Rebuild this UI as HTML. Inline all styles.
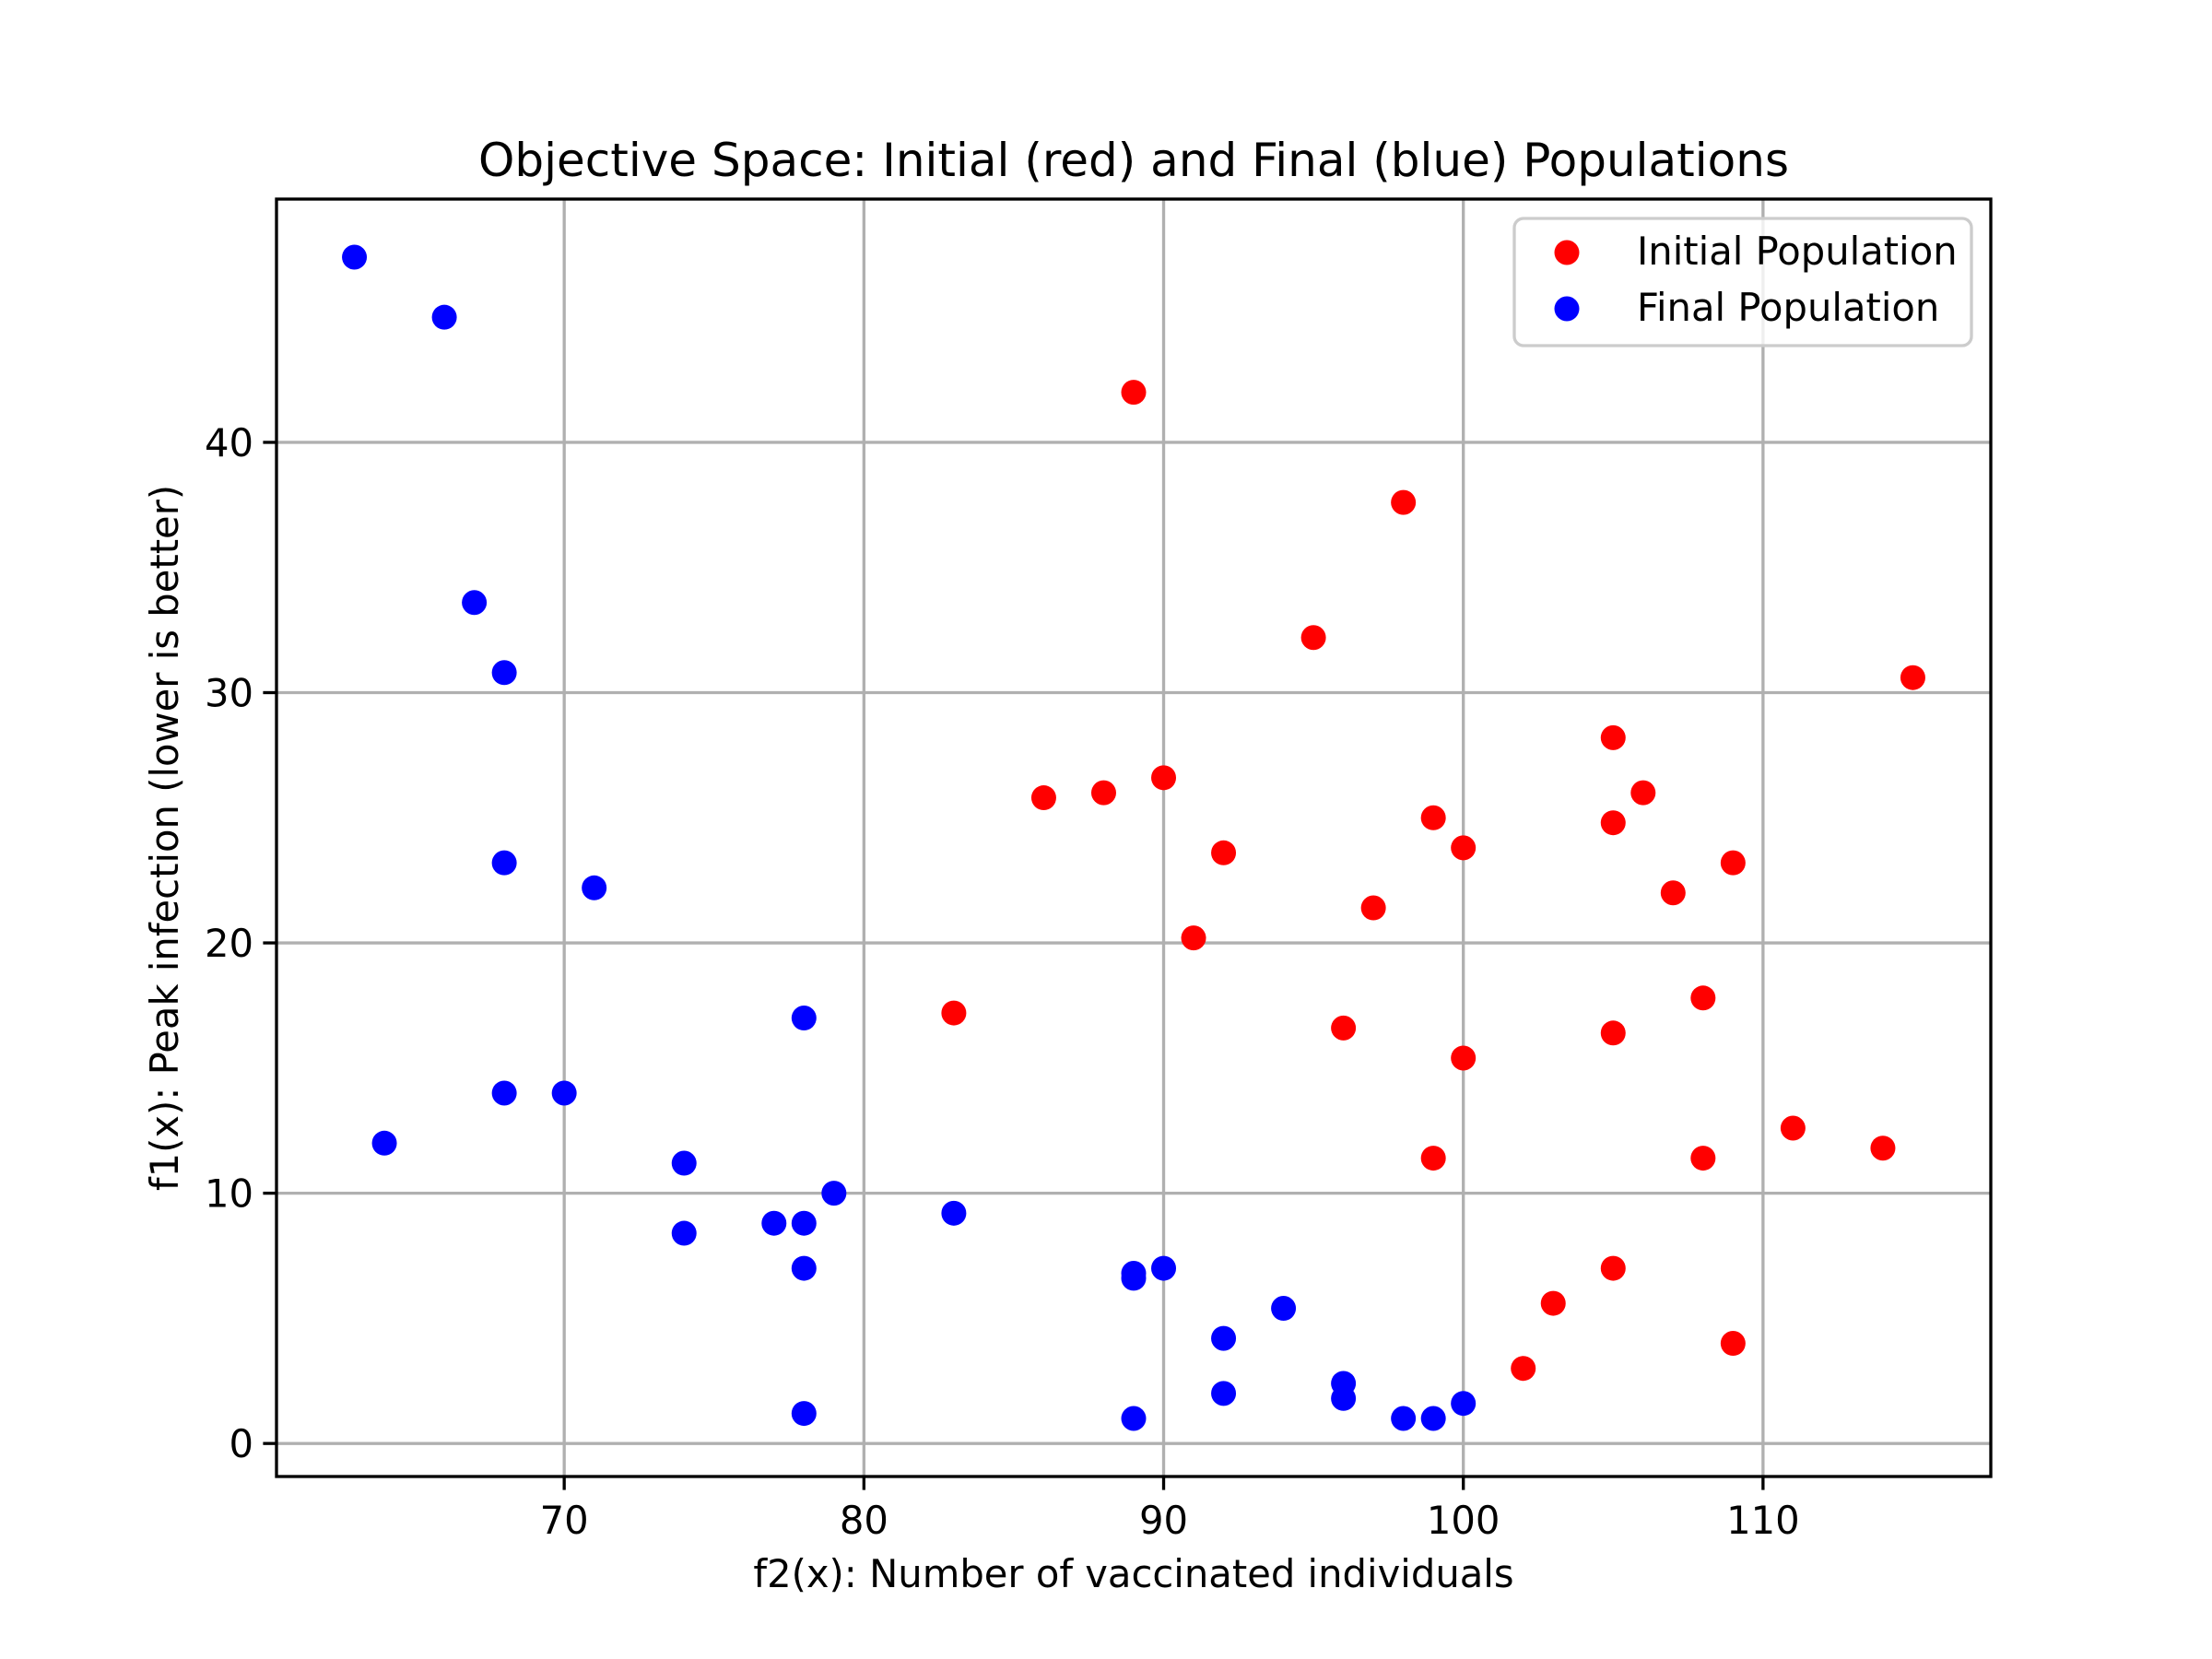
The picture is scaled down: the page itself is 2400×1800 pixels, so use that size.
<!DOCTYPE html>
<html><head><meta charset="utf-8"><style>
html,body{margin:0;padding:0;background:#fff;}
svg{display:block;font-family:"DejaVu Sans","Liberation Sans",sans-serif;}
</style></head><body>
<svg id="chart" width="2400" height="1800" viewBox="0 0 2400 1800" xmlns="http://www.w3.org/2000/svg">
<rect width="2400" height="1800" fill="#fff"/>
<g id="grid"></g>
<g id="marks"></g>
<rect x="300" y="216" width="1860" height="1386" fill="none" stroke="#000" stroke-width="3.33"/>
<g id="ticks"></g>
<text x="1230" y="191" font-size="50" text-anchor="middle">Objective Space: Initial (red) and Final (blue) Populations</text>
<text x="1230" y="1722" font-size="41.7" text-anchor="middle">f2(x): Number of vaccinated individuals</text>
<text transform="translate(193,909) rotate(-90)" font-size="41.7" text-anchor="middle">f1(x): Peak infection (lower is better)</text>
<g>
<rect x="1643" y="237" width="496" height="138" rx="10" fill="#fff" fill-opacity="0.8" stroke="#ccc" stroke-width="3.33"/>
<circle cx="1700" cy="274" r="13.5" fill="#ff0000"/>
<text x="1776" y="287" font-size="41.7">Initial Population</text>
<circle cx="1700" cy="335" r="13.5" fill="#0000ff"/>
<text x="1776" y="348" font-size="41.7">Final Population</text>
</g>
</svg>
<script>
const initialX=[89,98,95,115,105,90,86,88,106,99,105,100,92,109,107,97,91,83,108,96,105,100,111,114,99,108,105,103,102,109];
const initialY=[42,37.6,32.2,30.6,28.2,26.6,25.8,26.0,26.0,25.0,24.8,23.8,23.6,23.2,22.0,21.4,20.2,17.2,17.8,16.6,16.4,15.4,12.6,11.8,11.4,11.4,7.0,5.6,3.0,4.0];
const finalX=[63,66,67,68,68,71,78,68,70,64,74,74,77,78,79,83,78,89,89,90,94,92,96,96,92,100,98,99,89,78];
const finalY=[47.4,45.0,33.6,30.8,23.2,22.2,17.0,14.0,14.0,12.0,11.2,8.4,8.8,8.8,10.0,9.2,7.0,6.8,6.6,7.0,5.4,4.2,2.4,1.8,2.0,1.6,1.0,1.0,1.0,1.2];
const xTicks=[70,80,90,100,110];
const yTicks=[0,10,20,30,40];
const X0=300,X1=2160,Y0=1602,Y1=216;
const xMin=60.4,xMax=117.6,yMin=-1.32,yMax=49.72;
function sx(v){return X0+(v-xMin)/(xMax-xMin)*(X1-X0);}
function sy(v){return Y0-(v-yMin)/(yMax-yMin)*(Y0-Y1);}
const NS='http://www.w3.org/2000/svg';
function mk(tag,attrs,parent){const e=document.createElementNS(NS,tag);for(const k in attrs)e.setAttribute(k,attrs[k]);parent.appendChild(e);return e;}
const grid=document.getElementById('grid'),ticks=document.getElementById('ticks'),marks=document.getElementById('marks');
xTicks.forEach(t=>{const x=sx(t);
 const g=mk('line',{x1:x,x2:x,y1:Y1,y2:Y0,stroke:'#b0b0b0','stroke-width':3.33},grid);
 
 
 const tk=mk('line',{x1:x,x2:x,y1:Y0,y2:Y0+14.6,stroke:'#000','stroke-width':3.33},ticks);
 
 
 const tx=mk('text',{x:x,y:Y0+62,'font-size':41.7,'text-anchor':'middle'},ticks);tx.textContent=t;
 
 
});
yTicks.forEach(t=>{const y=sy(t);
 const g=mk('line',{x1:X0,x2:X1,y1:y,y2:y,stroke:'#b0b0b0','stroke-width':3.33},grid);
 
 
 const tk=mk('line',{x1:X0-14.6,x2:X0,y1:y,y2:y,stroke:'#000','stroke-width':3.33},ticks);
 
 
 const tx=mk('text',{x:X0-25,y:y+15,'font-size':41.7,'text-anchor':'end'},ticks);tx.textContent=t;
 
 
});
initialX.forEach((v,i)=>{const c=mk('circle',{cx:sx(v),cy:sy(initialY[i]),r:13.5,fill:'#ff0000'},marks);
 
 
});
finalX.forEach((v,i)=>{const c=mk('circle',{cx:sx(v),cy:sy(finalY[i]),r:13.5,fill:'#0000ff'},marks);
 
 
});
</script>
</body></html>
